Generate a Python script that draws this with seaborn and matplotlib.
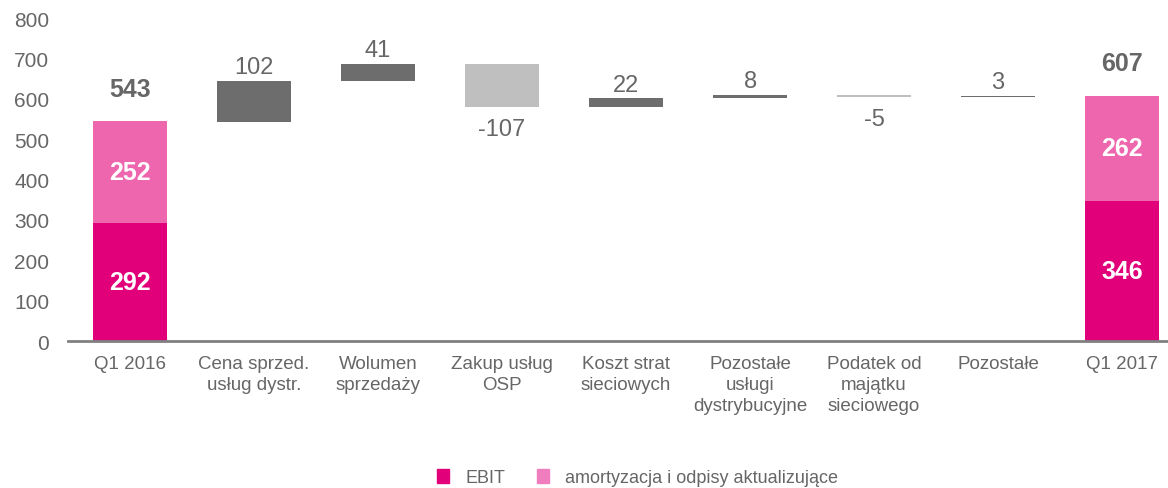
import matplotlib.pyplot as plt
import matplotlib.patches as mpatches
import pandas as pd
import seaborn as sns

# Dane (mln zł)
kategorie = ['Q1 2016', 'Cena sprzed.\nusług dystr.', 'Wolumen\nsprzedaży', 'Zakup usług\nOSP',
             'Koszt strat\nsieciowych', 'Pozostałe\nusługi\ndystrybucyjne', 'Podatek od\nmajątku\nsieciowego',
             'Pozostałe', 'Q1 2017']
ebit = [292, 346]
amortyzacja = [252, 262]
sumy = [543, 607]
zmiany = [102, 41, -107, 22, 8, -5, 3]

KOLOR_EBIT = '#E2007A'
KOLOR_AMORT = '#EE66AD'
KOLOR_AMORT_LEG = '#F07EBE'
KOLOR_PLUS = '#6D6D6D'
KOLOR_MINUS = '#BFBFBF'
SZARY = '#666666'

sns.set_theme(style='white')
plt.rcParams['font.family'] = ['Liberation Sans', 'DejaVu Sans']

fig = plt.figure(figsize=(11.68, 4.89), dpi=100)
ax = fig.add_axes([68 / 1168, 147 / 489, 1 - 68 / 1168, 323 / 489])

# Słupki skrajne (EBIT + amortyzacja)
krance = [kategorie[0], kategorie[-1]]
df_ebit = pd.DataFrame({'kat': krance, 'val': ebit})
df_amort = pd.DataFrame({'kat': krance, 'val': amortyzacja})
sns.barplot(data=df_ebit, x='kat', y='val', order=kategorie, color=KOLOR_EBIT,
            saturation=1, width=0.6, errorbar=None, ax=ax, linewidth=0)
sns.barplot(data=df_amort, x='kat', y='val', order=kategorie, color=KOLOR_AMORT,
            saturation=1, width=0.6, errorbar=None, ax=ax, linewidth=0, bottom=ebit)

# Zmiany (wodospad)
start = sumy[0]
plus_kat, plus_h, plus_b = [], [], []
minus_kat, minus_h, minus_b = [], [], []
poziom = start
for kat, z in zip(kategorie[1:-1], zmiany):
    if z >= 0:
        plus_kat.append(kat); plus_h.append(z); plus_b.append(poziom)
    else:
        minus_kat.append(kat); minus_h.append(-z); minus_b.append(poziom + z)
    poziom += z

sns.barplot(data=pd.DataFrame({'kat': plus_kat, 'val': plus_h}), x='kat', y='val', order=kategorie,
            color=KOLOR_PLUS, saturation=1, width=0.6, errorbar=None, ax=ax, linewidth=0, bottom=plus_b)
sns.barplot(data=pd.DataFrame({'kat': minus_kat, 'val': minus_h}), x='kat', y='val', order=kategorie,
            color=KOLOR_MINUS, saturation=1, width=0.6, errorbar=None, ax=ax, linewidth=0, bottom=minus_b)

# Etykiety wartości
poziom = start
for i, z in enumerate(zmiany, start=1):
    if z >= 0:
        ax.annotate(f'{z}', (i, poziom + z), xytext=(0, 2), textcoords='offset points',
                    ha='center', va='bottom', fontsize=17, color=SZARY)
    else:
        ax.annotate(f'{z}', (i, poziom + z), xytext=(0, -8), textcoords='offset points',
                    ha='center', va='top', fontsize=17, color=SZARY)
    poziom += z

for i, s, e, a in zip([0, len(kategorie) - 1], sumy, ebit, amortyzacja):
    ax.annotate(f'{s}', (i, s), xytext=(0, 15), textcoords='offset points',
                ha='center', va='bottom', fontsize=18, fontweight='bold', color=SZARY)
    ax.text(i, e / 2, f'{e}', ha='center', va='center', fontsize=18, fontweight='bold', color='white')
    ax.text(i, e + a / 2, f'{a}', ha='center', va='center', fontsize=18, fontweight='bold', color='white')

# Osie
ax.set_ylim(0, 800)
ax.set_xlim(-0.5, 8.37)
ax.set_yticks(range(0, 801, 100))
ax.set_xlabel('')
ax.set_ylabel('')
ax.tick_params(axis='y', labelsize=15, labelcolor=SZARY, length=0, pad=13.5)
ax.tick_params(axis='x', labelsize=13.5, labelcolor=SZARY, length=0, pad=10)
for lab in ax.get_xticklabels():
    lab.set_linespacing(1.32)
for s in ['top', 'right', 'left']:
    ax.spines[s].set_visible(False)
ax.spines['bottom'].set_color('#808080')
ax.spines['bottom'].set_linewidth(2)

# Legenda
uchwyty = [mpatches.Patch(color=KOLOR_EBIT, label='EBIT'),
           mpatches.Patch(color=KOLOR_AMORT_LEG, label='amortyzacja i odpisy aktualizujące')]
leg = fig.legend(handles=uchwyty, loc='lower center', bbox_to_anchor=(0.546, -0.03), ncol=2,
                 frameon=False, fontsize=13, handlelength=0.65, handleheight=0.85,
                 handletextpad=0.9, columnspacing=1.8)
for t in leg.get_texts():
    t.set_color(SZARY)

fig.savefig('out.png', dpi=100)
